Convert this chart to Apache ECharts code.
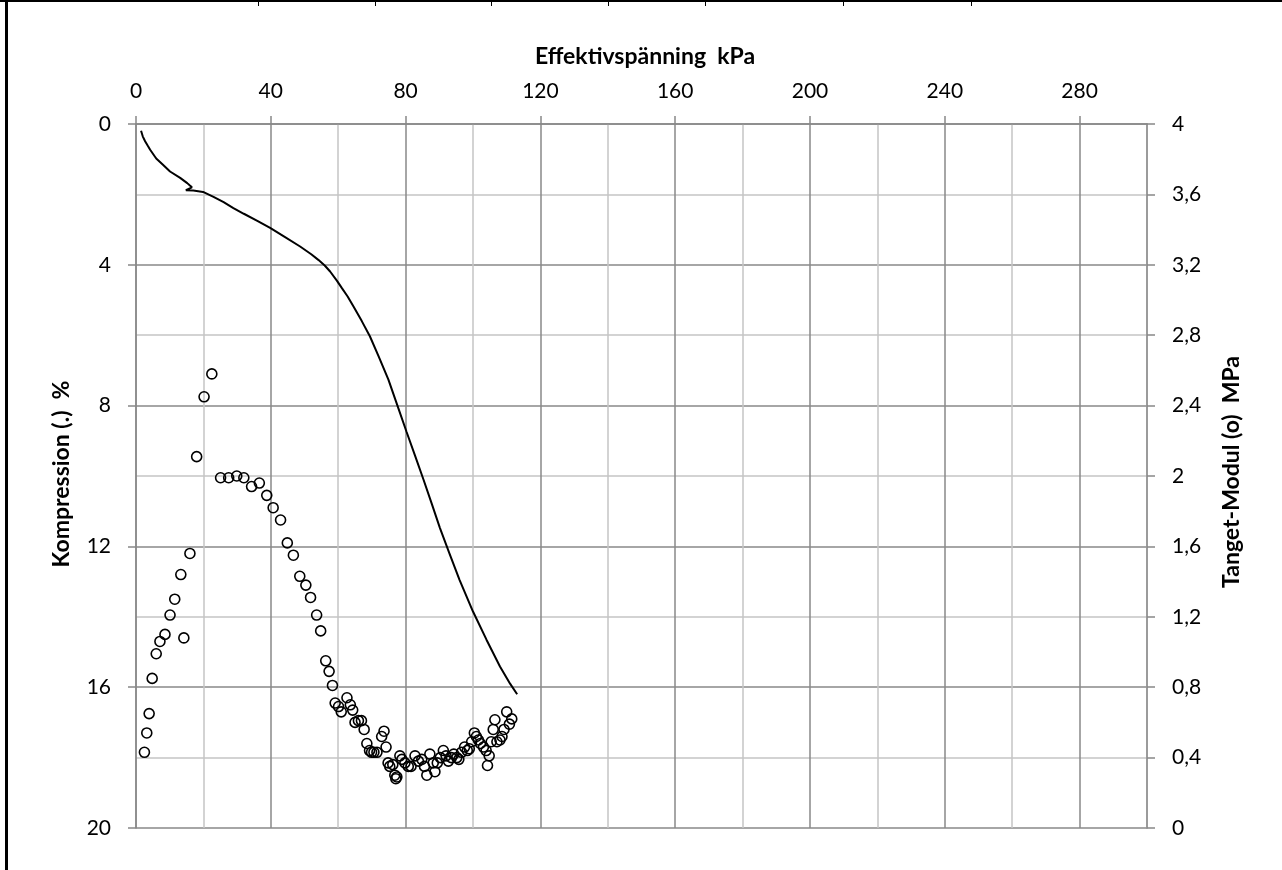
<!DOCTYPE html>
<html>
<head>
<meta charset="utf-8">
<title>Effektivspänning – Kompression / Tanget-Modul</title>
<script src="https://cdn.jsdelivr.net/npm/echarts@6/dist/echarts.min.js"></script>
<style>
  html, body { margin: 0; padding: 0; background: #fff; }
  #chart { width: 1282px; height: 870px; }
</style>
</head>
<body>
<div id="chart"></div>
<script>
// Stress axis (kPa), compression axis (%) and tangent modulus axis (MPa)
const stressTicks = [0, 40, 80, 120, 160, 200, 240, 280];
const komprTicks = [0, 4, 8, 12, 16, 20];
const modulTicks = [0, 0.4, 0.8, 1.2, 1.6, 2, 2.4, 2.8, 3.2, 3.6, 4];

// Compression curve: effective stress (kPa) and compression (%)
const curveStress = [1.5, 2.0, 2.7, 3.5, 4.2, 6.0, 8.0, 10.1, 13.1, 15.2, 16.0, 16.6, 14.8, 17.0, 19.9,
  23.0, 26.0, 28.9, 32.0, 36.0, 39.8, 44.0, 48.7, 52.0, 54.1, 56.0, 57.6, 59.6, 61.0, 62.8, 64.5, 67.0,
  69.4, 72.0, 74.9, 77.4, 80.3, 82.8, 85.3, 87.8, 90.2, 93.0, 96.0, 100.0, 104.0, 108.0, 111.0, 113.1];
const curveKompr = [0.19, 0.35, 0.49, 0.62, 0.73, 0.98, 1.16, 1.35, 1.53, 1.68, 1.75, 1.80, 1.88, 1.89, 1.93,
  2.07, 2.22, 2.39, 2.55, 2.75, 2.95, 3.20, 3.48, 3.70, 3.86, 4.02, 4.19, 4.45, 4.65, 4.90, 5.18, 5.60,
  6.03, 6.60, 7.26, 7.95, 8.75, 9.42, 10.10, 10.80, 11.48, 12.20, 12.95, 13.85, 14.65, 15.41, 15.90, 16.20];

// Tangent modulus points: effective stress (kPa) and modulus (MPa)
const modulStress = [2.5, 3.2, 3.9, 4.8, 6.0, 7.1, 8.6, 10.1, 11.5, 13.3, 14.2, 16.0, 18.0, 20.2, 22.5,
  25.1, 27.5, 29.9, 32.0, 34.3, 36.6, 38.8, 40.7, 42.9, 44.9, 46.7, 48.6, 50.4, 51.8, 53.6,
  54.8, 56.3, 57.3, 58.3, 59.1, 60.1, 60.9, 62.6, 63.6, 64.3, 65.0, 66.0, 66.9, 67.7, 68.5,
  69.3, 69.9, 70.6, 71.5, 72.9, 73.6, 74.2, 74.8, 75.3, 76.2, 76.8, 77.1, 77.4, 78.3, 78.9,
  79.8, 80.8, 81.6, 82.8, 83.8, 84.8, 85.6, 86.3, 87.2, 88.2, 88.7, 89.4, 90.3, 91.2, 92.0,
  92.7, 93.6, 94.3, 95.2, 95.8, 96.6, 97.5, 98.3, 98.9, 99.6, 100.4, 101.0, 101.6, 102.2, 103.1,
  103.9, 104.3, 104.8, 105.4, 106.0, 106.5, 107.1, 108.0, 108.6, 109.2, 110.0, 110.8, 111.5];
const modulValues = [0.43, 0.54, 0.65, 0.85, 0.99, 1.06, 1.10, 1.21, 1.30, 1.44, 1.08, 1.56, 2.11, 2.45, 2.58,
  1.99, 1.99, 2.00, 1.99, 1.94, 1.96, 1.89, 1.82, 1.75, 1.62, 1.55, 1.43, 1.38, 1.31, 1.21,
  1.12, 0.95, 0.89, 0.81, 0.71, 0.69, 0.66, 0.74, 0.70, 0.67, 0.60, 0.61, 0.61, 0.56, 0.48,
  0.44, 0.43, 0.43, 0.43, 0.52, 0.55, 0.46, 0.37, 0.35, 0.36, 0.30, 0.28, 0.29, 0.41, 0.39,
  0.37, 0.35, 0.35, 0.41, 0.38, 0.39, 0.35, 0.30, 0.42, 0.37, 0.32, 0.37, 0.40, 0.44, 0.41,
  0.38, 0.40, 0.42, 0.40, 0.39, 0.43, 0.46, 0.44, 0.45, 0.49, 0.54, 0.52, 0.50, 0.48, 0.46,
  0.44, 0.355, 0.41, 0.49, 0.56, 0.615, 0.49, 0.50, 0.52, 0.56, 0.66, 0.59, 0.62];

const FONT = 'Lato, "Open Sans", sans-serif';
const MAJOR = '#888888';
const MINOR = '#c4c4c4';
const gridColors = [MAJOR, MINOR];

const curveData = curveStress.map((x, i) => [x, curveKompr[i]]);
const modulData = modulStress.map((x, i) => [x, modulValues[i]]);
const decimalComma = v => String(+(+v).toFixed(1)).replace('.', ',');

// axis that only draws the 20 kPa / 2 % gridlines (major and minor alternate)
const gridOnly = {
  axisLine: { show: false },
  axisTick: { show: false },
  axisLabel: { show: false },
  z: 0
};

const chart = echarts.init(document.getElementById('chart'), null, { renderer: 'canvas' });

chart.setOption({
  animation: false,
  backgroundColor: '#ffffff',
  grid: { left: 136, top: 124, width: 1011, height: 704, containLabel: false },
  xAxis: [{
    type: 'value',
    position: 'top',
    min: 0, max: 300, interval: 20,
    z: 2,
    axisLine: { show: true, onZero: false, lineStyle: { color: MAJOR, width: 1.5 } },
    axisTick: { show: true, inside: false, length: 8, customValues: stressTicks, lineStyle: { color: MAJOR, width: 1.5 } },
    axisLabel: { customValues: stressTicks, margin: 22, color: '#000', fontSize: 21, fontFamily: FONT },
    splitLine: { show: false }
  }, Object.assign({
    type: 'value',
    position: 'bottom',
    min: 0, max: 300, interval: 20,
    splitLine: { show: true, lineStyle: { color: gridColors, width: 1.5 } }
  }, gridOnly)],
  yAxis: [{
    type: 'value',
    position: 'left',
    inverse: true,
    min: 0, max: 20, interval: 2,
    z: 2,
    axisLine: { show: true, onZero: false, lineStyle: { color: MAJOR, width: 1.5 } },
    axisTick: { show: true, inside: false, length: 8, customValues: komprTicks, lineStyle: { color: MAJOR, width: 1.5 } },
    axisLabel: { customValues: komprTicks, margin: 25, color: '#000', fontSize: 21, fontFamily: FONT },
    splitLine: { show: false }
  }, {
    type: 'value',
    position: 'right',
    min: 0, max: 4, interval: 0.4,
    z: 2,
    axisLine: { show: true, onZero: false, lineStyle: { color: MAJOR, width: 1.5 } },
    axisTick: { show: true, inside: false, length: 8, customValues: modulTicks, lineStyle: { color: MAJOR, width: 1.5 } },
    axisLabel: { customValues: modulTicks, margin: 25, color: '#000', fontSize: 21, fontFamily: FONT, formatter: decimalComma },
    splitLine: { show: false }
  }, Object.assign({
    type: 'value',
    position: 'left',
    offset: 0,
    inverse: true,
    min: 0, max: 20, interval: 2,
    splitLine: { show: true, lineStyle: { color: gridColors, width: 1.5 } }
  }, gridOnly)],
  series: [{
    name: 'Kompression',
    type: 'line',
    xAxisIndex: 0, yAxisIndex: 0,
    data: curveData,
    showSymbol: false,
    symbol: 'none',
    smooth: false,
    lineStyle: { color: '#000', width: 2 },
    silent: true,
    z: 3
  }, {
    name: 'Tanget-Modul',
    type: 'scatter',
    xAxisIndex: 0, yAxisIndex: 1,
    data: modulData,
    symbol: 'circle',
    symbolSize: 10,
    itemStyle: { color: 'rgba(0,0,0,0)', borderColor: '#000', borderWidth: 1.6, opacity: 1 },
    silent: true,
    z: 4
  }],
  graphic: [
    // axis titles
    { type: 'text', x: 645, y: 57, silent: true,
      style: { text: 'Effektivspänning  kPa', font: 'bold 23px ' + FONT, fill: '#000', align: 'center', verticalAlign: 'middle' } },
    { type: 'text', x: 62, y: 474, rotation: Math.PI / 2, silent: true,
      style: { text: 'Kompression (.)  %', font: 'bold 23px ' + FONT, fill: '#000', align: 'center', verticalAlign: 'middle' } },
    { type: 'text', x: 1232, y: 472, rotation: Math.PI / 2, silent: true,
      style: { text: 'Tanget-Modul (o)  MPa', font: 'bold 23px ' + FONT, fill: '#000', align: 'center', verticalAlign: 'middle' } },
    // page frame
    { type: 'rect', silent: true, shape: { x: 5, y: 0, width: 3, height: 870 }, style: { fill: '#000' } },
    { type: 'rect', silent: true, shape: { x: 0, y: 0, width: 1282, height: 2 }, style: { fill: '#000' } },
    { type: 'rect', silent: true, shape: { x: 258, y: 0, width: 1, height: 6 }, style: { fill: '#000' } },
    { type: 'rect', silent: true, shape: { x: 375, y: 0, width: 1, height: 6 }, style: { fill: '#000' } },
    { type: 'rect', silent: true, shape: { x: 491, y: 0, width: 1, height: 6 }, style: { fill: '#000' } },
    { type: 'rect', silent: true, shape: { x: 608, y: 0, width: 1, height: 6 }, style: { fill: '#000' } },
    { type: 'rect', silent: true, shape: { x: 705, y: 0, width: 1, height: 6 }, style: { fill: '#000' } },
    { type: 'rect', silent: true, shape: { x: 843, y: 0, width: 1, height: 6 }, style: { fill: '#000' } },
    { type: 'rect', silent: true, shape: { x: 971, y: 0, width: 1, height: 6 }, style: { fill: '#000' } }
  ]
});
</script>
</body>
</html>
